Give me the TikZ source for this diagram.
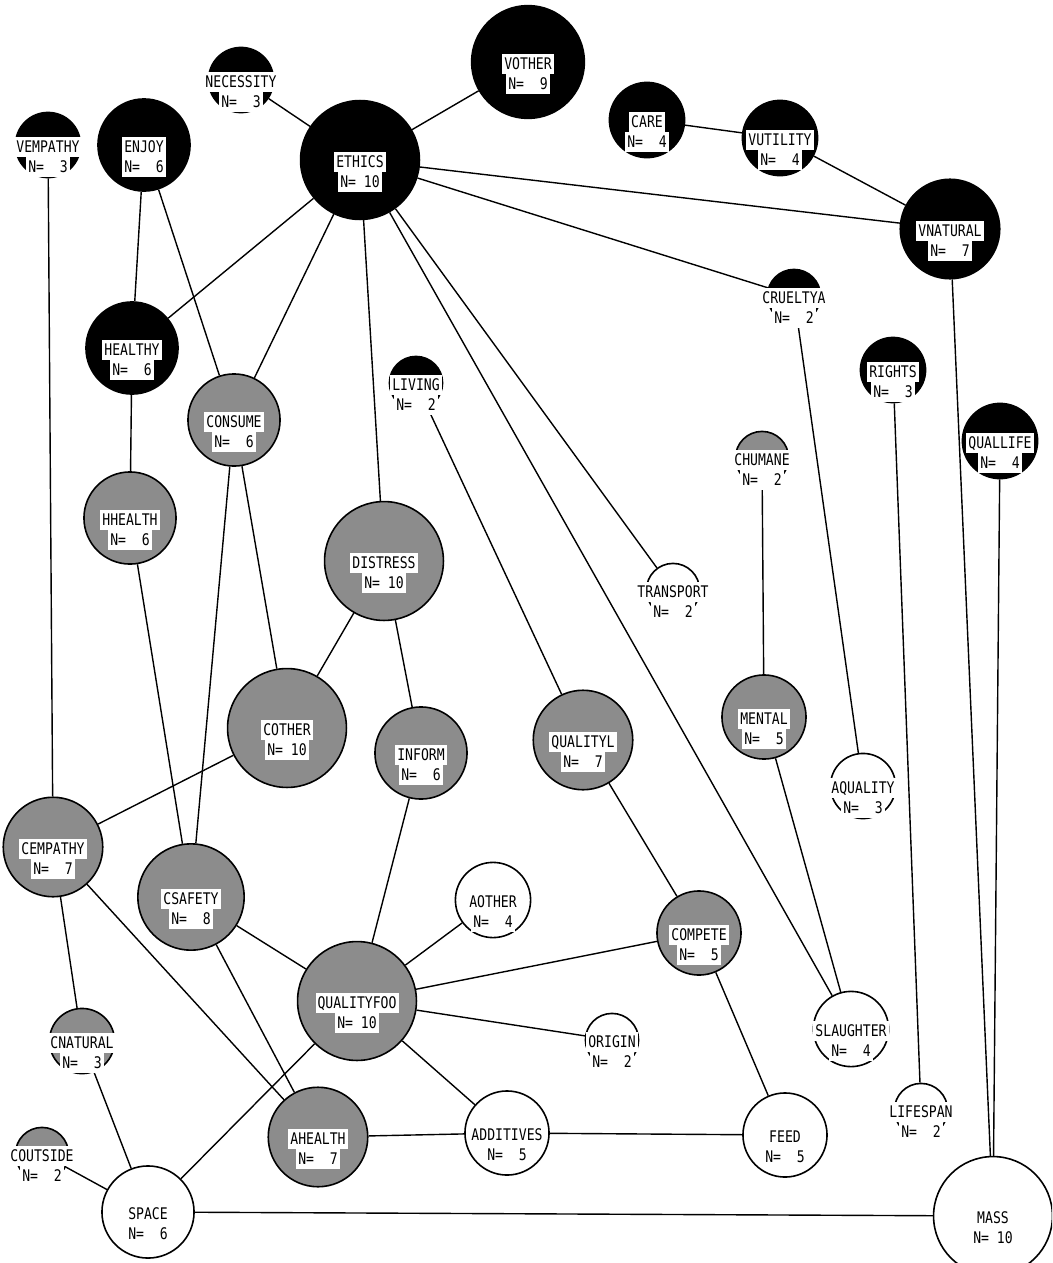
\documentclass[tikz,border=0pt]{standalone}
\usepackage{fontspec}
\newfontfamily\plotfont[FakeStretch=0.82]{DejaVu Sans Mono}
\pgfdeclarelayer{links}
\pgfsetlayers{links,main}

\tikzset{
  concept/.style={circle, inner sep=0pt, draw=black, line width=1.6pt},
  valuefill/.style={fill=black},
  consumerfill/.style={fill=black!45},
  plainfill/.style={fill=white},
  tag/.style={fill=white, inner xsep=2pt, inner ysep=4.15pt,
    text height=11.7pt, text depth=0pt,
    font=\plotfont\fontsize{16pt}{16pt}\selectfont},
  link/.style={line width=1.4pt},
}

% concept circle: area grows with N, two label lines on white strips
\newcommand\concept[6]{%
  \pgfmathsetmacro\cdia{37.6*sqrt(#4)}%
  \node[concept,#5,minimum size=\cdia pt] (#1) at (#2,#3) {};
  \node[tag] (#1-name) at (#2,#3+2) {#6};
  \node[tag] (#1-n) at (#2,#3+22) {N=\ifnum#4<10\ \ \else\ \fi#4};
}

\begin{document}
\begin{tikzpicture}[x=1pt,y=-1pt]
\useasboundingbox (0,0) rectangle (1052,1263);
\begin{pgfonlayer}{links}
  \fill[white] (0,0) rectangle (1052,1263);
\end{pgfonlayer}
\clip (0,0) rectangle (1052,1263);

% value concepts
\concept{vempathy}{48}{145}{3}{valuefill}{VEMPATHY}
\concept{enjoy}{144}{145}{6}{valuefill}{ENJOY}
\concept{necessity}{241}{80}{3}{valuefill}{NECESSITY}
\concept{ethics}{360}{160}{10}{valuefill}{ETHICS}
\concept{vother}{528}{62}{9}{valuefill}{VOTHER}
\concept{care}{647}{120}{4}{valuefill}{CARE}
\concept{vutility}{780}{138}{4}{valuefill}{VUTILITY}
\concept{vnatural}{950}{229}{7}{valuefill}{VNATURAL}
\concept{crueltya}{794}{296}{2}{valuefill}{CRUELTYA}
\concept{healthy}{132}{348}{6}{valuefill}{HEALTHY}
\concept{living}{416}{383}{2}{valuefill}{LIVING}
\concept{rights}{893}{370}{3}{valuefill}{RIGHTS}
\concept{quallife}{1000}{441}{4}{valuefill}{QUALLIFE}

% consumer concepts
\concept{consume}{234}{420}{6}{consumerfill}{CONSUME}
\concept{hhealth}{130}{518}{6}{consumerfill}{HHEALTH}
\concept{distress}{384}{561}{10}{consumerfill}{DISTRESS}
\concept{chumane}{762}{458}{2}{consumerfill}{CHUMANE}
\concept{cother}{287}{728}{10}{consumerfill}{COTHER}
\concept{inform}{421}{753}{6}{consumerfill}{INFORM}
\concept{qualityl}{583}{740}{7}{consumerfill}{QUALITYL}
\concept{mental}{764}{717}{5}{consumerfill}{MENTAL}
\concept{cempathy}{53}{847}{7}{consumerfill}{CEMPATHY}
\concept{csafety}{191}{897}{8}{consumerfill}{CSAFETY}
\concept{qualityfoo}{357}{1001}{10}{consumerfill}{QUALITYFOO}
\concept{compete}{699}{933}{5}{consumerfill}{COMPETE}
\concept{cnatural}{82}{1041}{3}{consumerfill}{CNATURAL}
\concept{ahealth}{318}{1137}{7}{consumerfill}{AHEALTH}
\concept{coutside}{42}{1154}{2}{consumerfill}{COUTSIDE}

% attribute concepts
\concept{transport}{673}{590}{2}{plainfill}{TRANSPORT}
\concept{aquality}{863}{786}{3}{plainfill}{AQUALITY}
\concept{aother}{493}{900}{4}{plainfill}{AOTHER}
\concept{origin}{612}{1040}{2}{plainfill}{ORIGIN}
\concept{slaughter}{851}{1029}{4}{plainfill}{SLAUGHTER}
\concept{lifespan}{921}{1110}{2}{plainfill}{LIFESPAN}
\concept{additives}{507}{1133}{5}{plainfill}{ADDITIVES}
\concept{feed}{785}{1135}{5}{plainfill}{FEED}
\concept{space}{148}{1212}{6}{plainfill}{SPACE}
\concept{mass}{993}{1216}{10}{plainfill}{MASS}

\begin{pgfonlayer}{links}
  \draw[link] (necessity) -- (ethics);
  \draw[link] (ethics) -- (vother);
  \draw[link] (ethics) -- (vnatural);
  \draw[link] (ethics) -- (crueltya);
  \draw[link] (ethics) -- (healthy);
  \draw[link] (ethics) -- (consume);
  \draw[link] (ethics) -- (distress);
  \draw[link] (ethics) -- (transport);
  \draw[link] (ethics) -- (slaughter);
  \draw[link] (care) -- (vutility);
  \draw[link] (vutility) -- (vnatural);
  \draw[link] (vnatural) -- (mass);
  \draw[link] (quallife) -- (mass);
  \draw[link] (enjoy) -- (healthy);
  \draw[link] (enjoy) -- (consume);
  \draw[link] (vempathy) -- (cempathy);
  \draw[link] (healthy) -- (hhealth);
  \draw[link] (hhealth) -- (csafety);
  \draw[link] (consume) -- (csafety);
  \draw[link] (consume) -- (cother);
  \draw[link] (distress) -- (cother);
  \draw[link] (distress) -- (inform);
  \draw[link] (cother) -- (cempathy);
  \draw[link] (inform) -- (qualityfoo);
  \draw[link] (living) -- (qualityl);
  \draw[link] (qualityl) -- (compete);
  \draw[link] (chumane) -- (mental);
  \draw[link] (mental) -- (slaughter);
  \draw[link] (crueltya) -- (aquality);
  \draw[link] (rights) -- (lifespan);
  \draw[link] (cempathy) -- (cnatural);
  \draw[link] (cempathy) -- (ahealth);
  \draw[link] (csafety) -- (qualityfoo);
  \draw[link] (csafety) -- (ahealth);
  \draw[link] (qualityfoo) -- (aother);
  \draw[link] (qualityfoo) -- (compete);
  \draw[link] (qualityfoo) -- (origin);
  \draw[link] (qualityfoo) -- (additives);
  \draw[link] (qualityfoo) -- (space);
  \draw[link] (compete) -- (feed);
  \draw[link] (cnatural) -- (space);
  \draw[link] (coutside) -- (space);
  \draw[link] (space) -- (mass);
  \draw[link] (ahealth) -- (additives);
  \draw[link] (additives) -- (feed);
\end{pgfonlayer}
\end{tikzpicture}
\end{document}
